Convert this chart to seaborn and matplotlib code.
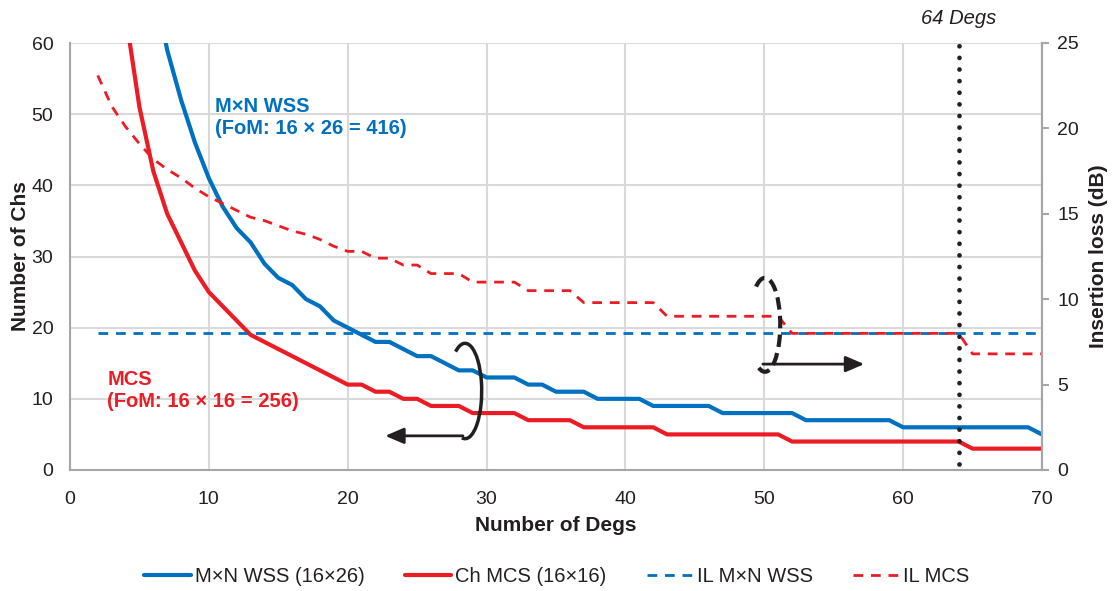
import matplotlib
matplotlib.use("Agg")
import matplotlib.pyplot as plt
import seaborn as sns
import pandas as pd
import numpy as np
from matplotlib.patches import Arc
from matplotlib.lines import Line2D

# ---------------- data ----------------
degs_wss = list(range(6, 71))
chs_wss = [69, 59, 52, 46, 41, 37, 34, 32, 29, 27, 26, 24, 23, 21, 20, 19, 18, 18, 17, 16,
           16, 15, 14, 14, 13, 13, 13, 12, 12, 11, 11, 11, 10, 10, 10, 10, 9, 9, 9, 9,
           9, 8, 8, 8, 8, 8, 8, 7, 7, 7, 7, 7, 7, 7, 6, 6, 6, 6, 6, 6,
           6, 6, 6, 6, 5]

degs_mcs = list(range(4, 71))
chs_mcs = [64, 51, 42, 36, 32, 28, 25, 23, 21, 19, 18, 17, 16, 15, 14, 13, 12, 12, 11, 11,
           10, 10, 9, 9, 9, 8, 8, 8, 8, 7, 7, 7, 7, 6, 6, 6, 6, 6, 6, 5,
           5, 5, 5, 5, 5, 5, 5, 5, 4, 4, 4, 4, 4, 4, 4, 4, 4, 4, 4, 4,
           4, 3, 3, 3, 3, 3, 3]

il_wss_degs = [2, 70]
il_wss = [8.05, 8.05]

il_mcs_degs = [2, 3, 4, 5, 6, 7, 8, 9, 10, 11, 12, 13, 14, 15, 16, 17, 18, 19, 20, 21,
               22, 23, 24, 25, 26, 28, 29, 32, 33, 36, 37, 42, 43, 51, 52, 64, 65, 70]
il_mcs = [23.1, 21.3, 20.1, 19.1, 18.2, 17.6, 17.1, 16.5, 16.0, 15.6, 15.2, 14.8, 14.6, 14.3,
          14.0, 13.8, 13.5, 13.1, 12.8, 12.8, 12.4, 12.4, 12.0, 12.0, 11.5, 11.5, 11.0, 11.0,
          10.5, 10.5, 9.8, 9.8, 9.0, 9.0, 8.0, 8.0, 6.8, 6.8]

marker_deg = 64

x_ticks = [0, 10, 20, 30, 40, 50, 60, 70]
y_left_ticks = [0, 10, 20, 30, 40, 50, 60]
y_right_ticks = [0, 5, 10, 15, 20, 25]

labels = ["M\u00d7N WSS (16\u00d726)", "Ch MCS (16\u00d716)", "IL M\u00d7N WSS", "IL MCS"]

BLUE = "#0070C0"
RED = "#EC1C24"
GREY = "#A6A6A6"
GRID = "#D9D9D9"
INK = "#231F20"

# ---------------- style ----------------
sns.set_theme(style="white")
plt.rcParams["font.family"] = ["Liberation Sans", "DejaVu Sans"]
plt.rcParams["text.color"] = INK
plt.rcParams["axes.labelcolor"] = INK
plt.rcParams["xtick.color"] = INK
plt.rcParams["ytick.color"] = INK

TICK_FS = 14
LAB_FS = 15
ANN_FS = 14.5
LEG_FS = 14.5

fig = plt.figure(figsize=(11.14, 5.91), dpi=100)
ax = fig.add_axes([70 / 1114, 1 - 470 / 591, (1042 - 70) / 1114, (470 - 43) / 591])
ax2 = ax.twinx()

df_wss = pd.DataFrame({"deg": degs_wss, "ch": chs_wss})
df_mcs = pd.DataFrame({"deg": degs_mcs, "ch": chs_mcs})
df_ilw = pd.DataFrame({"deg": il_wss_degs, "il": il_wss})
df_ilm = pd.DataFrame({"deg": il_mcs_degs, "il": il_mcs})

DASH = (0, (3.5, 2.8))
sns.lineplot(data=df_wss, x="deg", y="ch", ax=ax, color=BLUE, linewidth=3.0, legend=False)
sns.lineplot(data=df_mcs, x="deg", y="ch", ax=ax, color=RED, linewidth=3.0, legend=False)
sns.lineplot(data=df_ilw, x="deg", y="il", ax=ax2, color=BLUE, linewidth=2.0,
             linestyle=DASH, legend=False)
sns.lineplot(data=df_ilm, x="deg", y="il", ax=ax2, color=RED, linewidth=2.0,
             linestyle=DASH, legend=False)

# vertical dotted marker
ax.axvline(marker_deg, ymin=0.015, ymax=0.995, color=INK, linewidth=3.4,
           linestyle=(0, (0.01, 2.45)), dash_capstyle="round", zorder=5)
ax.text(marker_deg, 1.058, f"{marker_deg} Degs", transform=ax.get_xaxis_transform(),
        ha="center", va="center", fontsize=ANN_FS, style="italic", color=INK)

# axes limits & ticks
ax.set_xlim(0, 70)
ax.set_ylim(0, 60)
ax2.set_ylim(0, 25)
ax.set_xticks(x_ticks)
ax.set_yticks(y_left_ticks)
ax2.set_yticks(y_right_ticks)

ax.grid(True, color=GRID, linewidth=1.5)
ax.set_axisbelow(True)
ax2.grid(False)

for a in (ax, ax2):
    a.spines["top"].set_visible(False)
    for s in ("left", "bottom", "right"):
        a.spines[s].set_color(GREY)
        a.spines[s].set_linewidth(1.5)
ax2.spines["left"].set_visible(False)
ax2.spines["bottom"].set_visible(False)

ax.tick_params(axis="y", length=0, labelsize=TICK_FS, pad=12)
ax.tick_params(axis="x", length=0, labelsize=TICK_FS, pad=15)
ax2.tick_params(axis="y", direction="out", length=5, width=1.5, color=GREY,
                labelsize=TICK_FS, pad=6)

ax.set_xlabel("Number of Degs", fontsize=LAB_FS, fontweight="bold", labelpad=6)
ax.set_ylabel("Number of Chs", fontsize=LAB_FS, fontweight="bold", labelpad=1)
ax2.set_ylabel("Insertion loss (dB)", fontsize=LAB_FS, fontweight="bold", labelpad=7)

# annotations
ax.text(10.45, 52.4, "M\u00d7N WSS\n(FoM: 16 \u00d7 26 = 416)", color=BLUE, fontsize=ANN_FS,
        fontweight="bold", ha="left", va="top", linespacing=1.2)
ax.text(2.7, 14.1, "MCS\n(FoM: 16 \u00d7 16 = 256)", color=RED, fontsize=ANN_FS,
        fontweight="bold", ha="left", va="top", linespacing=1.2)

# solid loop + left arrow (channel count)
ax.add_patch(Arc((28.45, 11.1), 2.4, 13.4, theta1=-92, theta2=97, color=INK,
                 linewidth=2.5, zorder=6))
ax.annotate("", xy=(22.7, 4.8), xytext=(28.3, 4.8),
            arrowprops=dict(arrowstyle="-|>,head_length=0.7,head_width=0.3",
                            color=INK, lw=2, mutation_scale=16, shrinkA=0, shrinkB=0),
            zorder=6)

# dashed loop + right arrow (insertion loss)
ax2.add_patch(Arc((50.05, 8.5), 2.2, 5.5, theta1=-100, theta2=112, color=INK,
                  linewidth=3.0, linestyle=(0, (3, 1.5)), zorder=6))
ax2.annotate("", xy=(57.2, 6.2), xytext=(49.9, 6.2),
             arrowprops=dict(arrowstyle="-|>,head_length=0.7,head_width=0.3",
                             color=INK, lw=2, mutation_scale=16, shrinkA=0, shrinkB=0),
             zorder=6)

# legend
handles = [
    Line2D([], [], color=BLUE, linewidth=3.0),
    Line2D([], [], color=RED, linewidth=3.0),
    Line2D([], [], color=BLUE, linewidth=2.0, linestyle=DASH),
    Line2D([], [], color=RED, linewidth=2.0, linestyle=DASH),
]
fig.legend(handles, labels, loc="center", bbox_to_anchor=(0.5, 1 - 577 / 591), ncol=4,
           frameon=False, fontsize=LEG_FS, handlelength=2.3, handletextpad=0.2,
           columnspacing=2.0)

fig.savefig("out.png", dpi=100)
